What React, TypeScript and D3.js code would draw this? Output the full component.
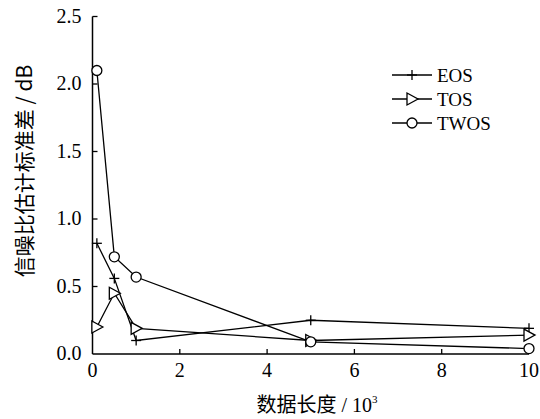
import React from "react";
import * as d3 from "d3";

const xValues = [0.1, 0.5, 1, 5, 10];
const eosValues = [0.82, 0.56, 0.1, 0.25, 0.19];
const tosValues = [0.2, 0.45, 0.19, 0.1, 0.14];
const twosValues = [2.1, 0.72, 0.57, 0.09, 0.04];
const seriesNames = ["EOS", "TOS", "TWOS"];
const xTicks = [0, 2, 4, 6, 8, 10];
const yTicks = [0, 0.5, 1.0, 1.5, 2.0, 2.5];

const W = 540;
const H = 419;
const left = 92.5;
const right = 529;
const top = 16.5;
const bottom = 354;

const serif = "'Liberation Serif', 'Times New Roman', serif";
const cjk = "'Noto Sans CJK SC', sans-serif";

function Marker({ type, x, y }: { type: string; x: number; y: number }) {
  if (type === "EOS") {
    return (
      <g stroke="#000" strokeWidth={1.3}>
        <line x1={x - 5} x2={x + 5} y1={y} y2={y} />
        <line x1={x} x2={x} y1={y - 5} y2={y + 5} />
      </g>
    );
  }
  if (type === "TOS") {
    return (
      <path
        d={`M${x - 5},${y - 6}L${x + 6},${y}L${x - 5},${y + 6}Z`}
        fill="#fff"
        stroke="#000"
        strokeWidth={1.3}
      />
    );
  }
  return <circle cx={x} cy={y} r={5} fill="#fff" stroke="#000" strokeWidth={1.3} />;
}

export default function App() {
  const x = d3.scaleLinear().domain([0, 10]).range([left, right]);
  const y = d3.scaleLinear().domain([0, 2.5]).range([bottom, top]);
  const series = [
    { name: "EOS", values: eosValues },
    { name: "TOS", values: tosValues },
    { name: "TWOS", values: twosValues },
  ];
  const line = d3
    .line<[number, number]>()
    .x((d) => x(d[0]))
    .y((d) => y(d[1]));

  const legendY = [75, 99, 123];

  return (
    <svg
      width={W}
      height={H}
      style={{ position: "absolute", left: 0, top: 0, background: "#fff" }}
    >
      <rect width={W} height={H} fill="#fff" />
      {/* axes */}
      <line x1={left} x2={left} y1={top} y2={bottom} stroke="#000" strokeWidth={1.5} />
      <line x1={left} x2={right} y1={bottom} y2={bottom} stroke="#000" strokeWidth={1.5} />
      {xTicks.map((t) => (
        <g key={"xt" + t}>
          {t !== 0 && (
            <line x1={x(t)} x2={x(t)} y1={bottom} y2={bottom - 5} stroke="#000" strokeWidth={1.3} />
          )}
          <text
            x={x(t)}
            y={bottom + 23}
            textAnchor="middle"
            fontFamily={serif}
            fontSize={20}
          >
            {t}
          </text>
        </g>
      ))}
      {yTicks.map((t) => (
        <g key={"yt" + t}>
          {t !== 0 && (
            <line x1={left} x2={left + 5} y1={y(t)} y2={y(t)} stroke="#000" strokeWidth={1.3} />
          )}
          <text
            x={left - 11}
            y={y(t) + 6}
            textAnchor="end"
            fontFamily={serif}
            fontSize={20}
          >
            {t.toFixed(1)}
          </text>
        </g>
      ))}
      {/* series */}
      {series.map((s) => {
        const pts = xValues.map((xv, i) => [xv, s.values[i]] as [number, number]);
        return (
          <g key={s.name}>
            <path d={line(pts) || ""} fill="none" stroke="#000" strokeWidth={1.3} />
            {pts.map((p, i) => (
              <Marker key={i} type={s.name} x={x(p[0])} y={y(p[1])} />
            ))}
          </g>
        );
      })}
      {/* legend */}
      {seriesNames.map((n, i) => (
        <g key={"lg" + n}>
          <line x1={392} x2={432} y1={legendY[i]} y2={legendY[i]} stroke="#000" strokeWidth={1.3} />
          <Marker type={n} x={412} y={legendY[i]} />
          <text x={437} y={legendY[i] + 7} fontFamily={serif} fontSize={19}>
            {n}
          </text>
        </g>
      ))}
      {/* axis titles */}
      <text x={317} y={412} textAnchor="middle" fontSize={20}>
        <tspan fontFamily={cjk}>数据长度</tspan>
        <tspan fontFamily={serif}> / 10</tspan>
        <tspan fontFamily={serif} fontSize={11} dy={-9}>3</tspan>
      </text>
      <text
        transform={`translate(32,171) rotate(-90)`}
        textAnchor="middle"
        fontFamily={cjk}
        fontSize={21}
      >
        信噪比估计标准差 / dB
      </text>
    </svg>
  );
}
